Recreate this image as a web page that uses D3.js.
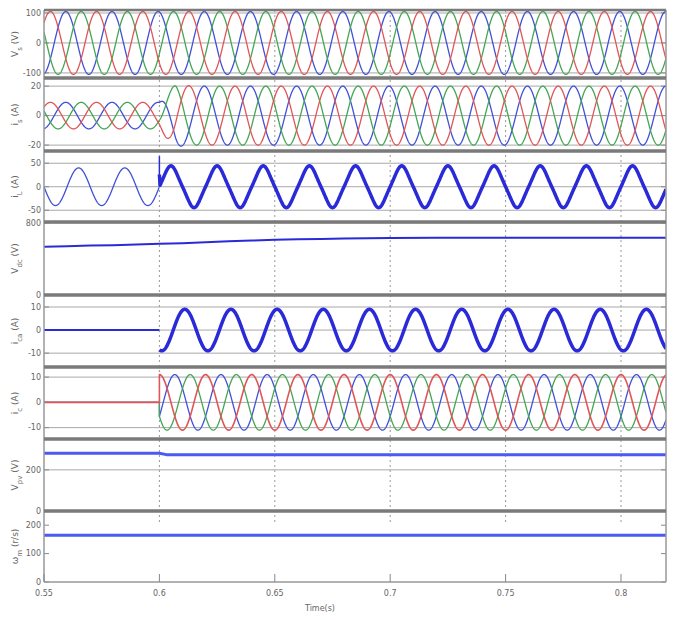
<!DOCTYPE html>
<html>
<head>
<meta charset="utf-8">
<script src="https://cdn.jsdelivr.net/npm/d3@7"></script>
<style>
  body { margin: 0; background: #fff; }
  svg { display: block; font-family: "DejaVu Sans", sans-serif; }
</style>
</head>
<body>
<div id="chart"></div>
<script>
// ---- data ----
const timeTicks = [0.55, 0.6, 0.65, 0.7, 0.75, 0.8];
const timeTickLabels = ["0.55", "0.6", "0.65", "0.7", "0.75", "0.8"];
const timeRange = [0.55, 0.8195];

const panelNames = ["V", "i", "i", "V", "i", "i", "V", "ω"];
const panelSubs = ["s", "s", "L", "dc", "ca", "c", "pv", "m"];
const panelUnits = ["(V)", "(A)", "(A)", "(V)", "(A)", "(A)", "(V)", "(r/s)"];
const panelTicks = [[100, 0, -100], [20, 0, -20], [50, 0, -50], [0, 800], [10, 0, -10], [10, 0, -10], [0, 200], [0, 100, 200]];
const panelDomains = [[-117, 110], [-24, 25.5], [-75, 76], [0, 810], [-16, 15.2], [-14.5, 14], [0, 350], [0, 250]];

const freqHz = 50;
const switchTime = 0.6;
const phaseLagDeg = [120, 240, 0];          // blue, green, red (red drawn last)

const vsPeak = 105;
const vsPhaseDeg = 40;

const isEnvTimes = [0.55, 0.6, 0.603, 0.607, 0.615, 0.8195];
const isEnvPeaks = [9, 9, 15, 21, 20, 20];

const iLPeakBefore = 40;
const iLFundAfter = 42;
const iLThirdAfter = -2.5;
const iLSpike = 65;

const icaPeak = 9;
const icaPeakTime = 0.611;

const icPeak = 11;

const vdcTimes = [0.55, 0.56, 0.57, 0.58, 0.59, 0.6, 0.61, 0.62, 0.63, 0.64, 0.65, 0.66, 0.67, 0.68, 0.69, 0.7, 0.72, 0.74, 0.76, 0.78, 0.8, 0.8195];
const vdcValues = [535, 540, 548, 552, 560, 568, 575, 586, 596, 604, 612, 618, 622, 626, 630, 632, 634, 635, 636, 636, 636, 636];

const vpvTimes = [0.55, 0.6, 0.603, 0.8195];
const vpvValues = [281, 281, 274, 274];

const wmTimes = [0.55, 0.8195];
const wmValues = [165, 165];

// ---- layout ----
const W = 678, H = 620;
const left = 44, right = 666;
const panelTops = [10, 78, 151, 222, 295, 367, 439, 511];
const panelBottoms = [78, 151, 222, 295, 367, 439, 511, 582];
const colors = { blue: "#4050d8", green: "#44a653", red: "#e05558", dark: "#2a2ad8", light: "#4a5af2" };
const phaseColors = [colors.blue, colors.green, colors.red];

const svg = d3.select("#chart").append("svg").attr("width", W).attr("height", H);

const x = d3.scaleLinear().domain(timeRange).range([left, right]);
const yScales = panelDomains.map((d, i) => d3.scaleLinear().domain(d).range([panelBottoms[i], panelTops[i]]));

const w = 2 * Math.PI * freqHz;
const times = d3.range(timeRange[0], timeRange[1] + 1e-9, 0.0001);
const rad = d => d * Math.PI / 180;

svg.append("defs").append("clipPath").attr("id", "plotclip")
  .append("rect").attr("x", left).attr("y", panelTops[0]).attr("width", right - left).attr("height", panelBottoms[7] - panelTops[0]);

// horizontal grid + tick labels
panelTicks.forEach((ticks, i) => {
  const y = yScales[i];
  const g = svg.append("g");
  ticks.forEach(v => {
    g.append("line").attr("x1", left).attr("x2", right).attr("y1", y(v)).attr("y2", y(v))
      .attr("stroke", i === 7 ? "none" : "#a8a8a8").attr("stroke-width", 1);
    g.append("line").attr("x1", left).attr("x2", left + 5).attr("y1", y(v)).attr("y2", y(v)).attr("stroke", "#888");
    g.append("line").attr("x1", right - 5).attr("x2", right).attr("y1", y(v)).attr("y2", y(v)).attr("stroke", "#888");
    g.append("text").attr("x", left - 3).attr("y", y(v)).attr("dy", "0.35em")
      .attr("text-anchor", "end").attr("font-size", 8).attr("fill", "#666").text(v);
  });
  const label = svg.append("text")
    .attr("transform", `translate(18,${(panelTops[i] + panelBottoms[i]) / 2}) rotate(-90)`)
    .attr("text-anchor", "middle").attr("font-size", 9).attr("fill", "#666");
  label.append("tspan").text(panelNames[i]);
  label.append("tspan").attr("baseline-shift", "sub").attr("font-size", 7).text(panelSubs[i]);
  label.append("tspan").text(" " + panelUnits[i]);
});

// vertical dotted grid
timeTicks.slice(1).forEach(t => {
  svg.append("line").attr("x1", x(t)).attr("x2", x(t)).attr("y1", panelTops[0]).attr("y2", 522)
    .attr("stroke", "#999").attr("stroke-width", 1).attr("stroke-dasharray", "2,3");
});

// signals
const plot = svg.append("g").attr("clip-path", "url(#plotclip)");
const drawLine = (pts, yi, color, width) => {
  plot.append("path").datum(pts)
    .attr("d", d3.line().x(d => x(d[0])).y(d => yScales[yi](d[1])))
    .attr("fill", "none").attr("stroke", color).attr("stroke-width", width).attr("stroke-linejoin", "round");
};

// panel 1: source voltage
phaseLagDeg.forEach((lag, k) => {
  const pts = times.map(t => [t, vsPeak * Math.sin(w * (t - timeRange[0]) + rad(vsPhaseDeg - lag))]);
  drawLine(pts, 0, phaseColors[k], 1.3);
});

// panel 2: source current
const isEnv = d3.scaleLinear().domain(isEnvTimes).range(isEnvPeaks).clamp(true);
phaseLagDeg.forEach((lag, k) => {
  const pts = times.map(t => [t, isEnv(t) * Math.sin(w * (t - timeRange[0]) + rad(vsPhaseDeg - lag))]);
  drawLine(pts, 1, phaseColors[k], 1.3);
});

// panel 3: load current
const iLBefore = times.filter(t => t <= switchTime).map(t => [t, iLPeakBefore * Math.sin(w * (t - switchTime))]);
drawLine(iLBefore, 2, colors.blue, 1.3);
drawLine([[switchTime, 0], [switchTime, iLSpike]], 2, colors.dark, 1.5);
const iLAfter = times.filter(t => t > switchTime + 0.0003).map(t => {
  const th = w * (t - switchTime);
  return [t, iLFundAfter * Math.sin(th) + iLThirdAfter * Math.sin(3 * th)];
});
drawLine([[switchTime, iLSpike * 0.4]].concat(iLAfter), 2, colors.dark, 3.5);

// panel 4: dc link voltage
drawLine(d3.zip(vdcTimes, vdcValues), 3, colors.dark, 2);

// panel 5: compensating current
drawLine([[timeRange[0], 0], [switchTime, 0]], 4, colors.dark, 2);
drawLine(times.filter(t => t >= switchTime).map(t => [t, icaPeak * Math.cos(w * (t - icaPeakTime))]), 4, colors.dark, 3.5);

// panel 6: three-phase compensating currents
phaseLagDeg.forEach((lag, k) => {
  const pts = [[timeRange[0], 0], [switchTime, 0]].concat(
    times.filter(t => t >= switchTime).map(t => [t, icPeak * Math.cos(w * (t - switchTime) - rad(lag))]));
  drawLine(pts, 5, phaseColors[k], k === 2 ? 1.6 : 1.3);
});

// panel 7 and 8
drawLine(d3.zip(vpvTimes, vpvValues), 6, colors.light, 3);
drawLine(d3.zip(wmTimes, wmValues), 7, colors.light, 3);

// frames
svg.append("line").attr("x1", left).attr("x2", left).attr("y1", panelTops[0]).attr("y2", panelBottoms[7]).attr("stroke", "#999").attr("stroke-width", 1.5);
svg.append("line").attr("x1", right).attr("x2", right).attr("y1", panelTops[0]).attr("y2", panelBottoms[7]).attr("stroke", "#999").attr("stroke-width", 1.5);
panelTops.forEach((yTop, i) => {
  svg.append("line").attr("x1", left).attr("x2", right).attr("y1", yTop).attr("y2", yTop)
    .attr("stroke", "#7a7a7a").attr("stroke-width", i === 0 ? 2.5 : 3.5);
});
svg.append("line").attr("x1", left).attr("x2", right).attr("y1", panelBottoms[7]).attr("y2", panelBottoms[7])
  .attr("stroke", "#999").attr("stroke-width", 1.5);

// x axis
const xAxis = svg.append("g");
timeTicks.forEach((t, i) => {
  xAxis.append("line").attr("x1", x(t)).attr("x2", x(t)).attr("y1", panelBottoms[7] - 8).attr("y2", panelBottoms[7]).attr("stroke", "#888");
  xAxis.append("text").attr("x", x(t)).attr("y", 596).attr("text-anchor", "middle")
    .attr("font-size", 8).attr("fill", "#666").text(timeTickLabels[i]);
});
svg.append("text").attr("x", (left + right) / 2 - 35).attr("y", 611).attr("text-anchor", "middle")
  .attr("font-size", 8).attr("fill", "#666").text("Time(s)");
</script>
</body>
</html>
